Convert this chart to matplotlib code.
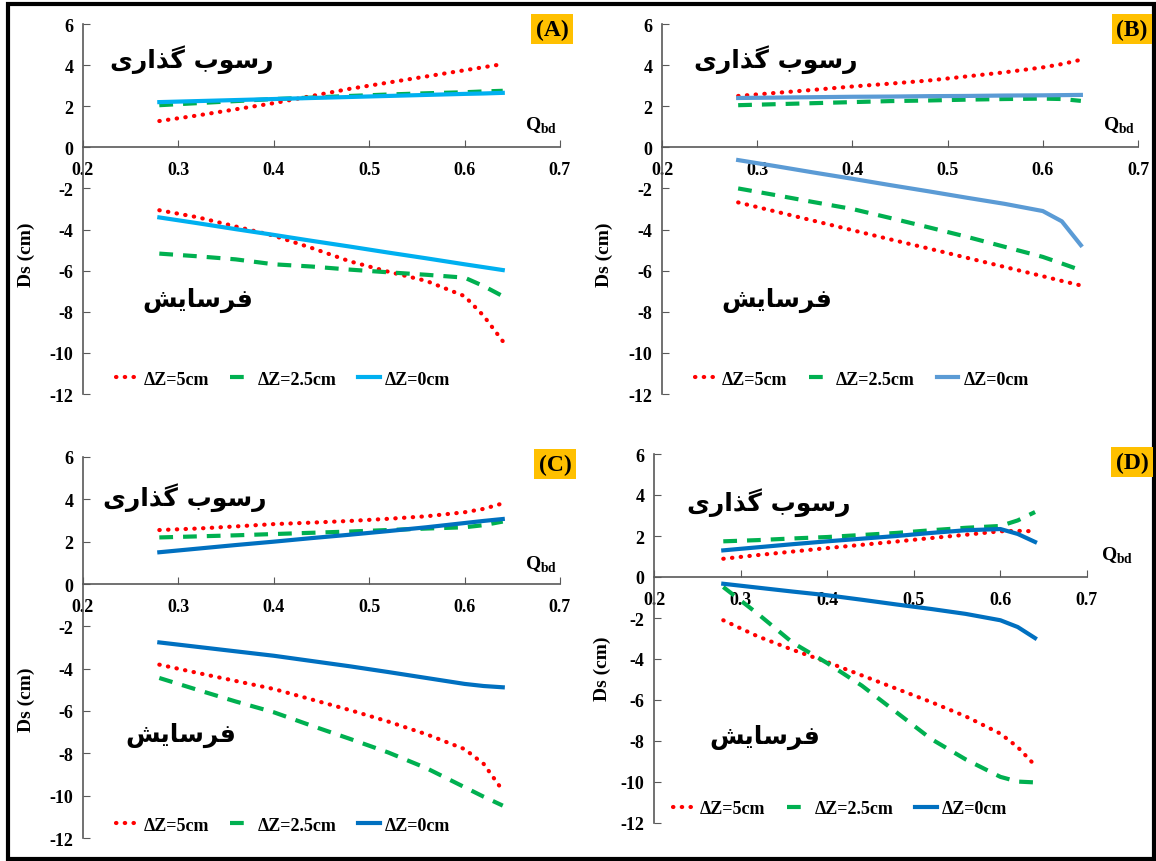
import numpy as np
import matplotlib
matplotlib.use("Agg")
from matplotlib import pyplot as plt
from matplotlib.patches import Rectangle

plt.rcParams['font.family'] = ['Liberation Serif', 'DejaVu Serif']
plt.rcParams['font.weight'] = 'bold'
plt.rcParams['axes.unicode_minus'] = False
plt.rcParams['mathtext.fontset'] = 'custom'
plt.rcParams['mathtext.rm'] = 'Liberation Serif:bold'
plt.rcParams['mathtext.bf'] = 'Liberation Serif:bold'

# ---------------- data ----------------
q_bd = [0.28, 0.32, 0.36, 0.40, 0.44, 0.48, 0.52, 0.56, 0.60, 0.62, 0.64]
legend_labels = ['ΔZ=5cm', 'ΔZ=2.5cm', 'ΔZ=0cm']
panel_tags = ['(A)', '(B)', '(C)', '(D)']

# panel A
a_dep_5 = [1.28, 1.55, 1.85, 2.15, 2.5, 2.85, 3.15, 3.45, 3.75, 3.9, 4.05]
a_dep_25 = [2.05, 2.15, 2.25, 2.35, 2.42, 2.5, 2.57, 2.63, 2.68, 2.72, 2.75]
a_dep_0 = [2.2, 2.25, 2.3, 2.35, 2.4, 2.45, 2.5, 2.55, 2.6, 2.62, 2.65]
a_ero_5 = [-3.06, -3.4, -3.85, -4.3, -4.9, -5.55, -6.05, -6.5, -7.24, -8.2, -9.43]
a_ero_25 = [-5.17, -5.3, -5.45, -5.69, -5.8, -5.95, -6.08, -6.2, -6.34, -6.75, -7.24]
a_ero_0 = [-3.41, -3.69, -3.98, -4.26, -4.55, -4.83, -5.12, -5.4, -5.69, -5.83, -5.97]

# panel B
b_dep_5 = [2.5, 2.65, 2.8, 2.96, 3.1, 3.25, 3.45, 3.65, 3.89, 4.05, 4.26]
b_dep_25 = [2.05, 2.1, 2.15, 2.2, 2.25, 2.28, 2.32, 2.35, 2.37, 2.35, 2.26]
b_dep_0 = [2.4, 2.42, 2.44, 2.46, 2.47, 2.49, 2.5, 2.52, 2.53, 2.54, 2.55]
b_ero_5 = [-2.68, -3.13, -3.58, -4.03, -4.48, -4.92, -5.37, -5.82, -6.27, -6.5, -6.72]
b_ero_25 = [-2.0, -2.33, -2.67, -3.0, -3.44, -3.89, -4.35, -4.84, -5.33, -5.65, -5.98]
b_ero_0 = [-0.62, -0.92, -1.23, -1.53, -1.84, -2.14, -2.45, -2.75, -3.1, -3.6, -4.76]

# panel C
c_dep_5 = [2.55, 2.62, 2.72, 2.83, 2.9, 2.98, 3.08, 3.2, 3.39, 3.55, 3.81]
c_dep_25 = [2.2, 2.25, 2.3, 2.36, 2.42, 2.48, 2.55, 2.62, 2.68, 2.78, 2.95]
c_dep_0 = [1.5, 1.67, 1.84, 2.0, 2.17, 2.33, 2.5, 2.68, 2.88, 2.98, 3.07]
c_ero_5 = [-3.81, -4.2, -4.58, -4.96, -5.46, -5.96, -6.5, -7.1, -7.8, -8.5, -9.76]
c_ero_25 = [-4.44, -5.0, -5.55, -6.06, -6.7, -7.32, -7.96, -8.7, -9.6, -10.05, -10.47]
c_ero_0 = [-2.76, -2.97, -3.18, -3.39, -3.64, -3.89, -4.16, -4.44, -4.72, -4.82, -4.88]

# panel D
d_dep_5 = [0.89, 1.07, 1.24, 1.41, 1.57, 1.73, 1.9, 2.06, 2.23, 2.25, 2.23]
d_dep_25 = [1.74, 1.8, 1.88, 1.95, 2.05, 2.15, 2.28, 2.4, 2.49, 2.76, 3.17]
d_dep_0 = [1.3, 1.45, 1.6, 1.74, 1.87, 2.0, 2.15, 2.28, 2.34, 2.1, 1.71]
d_ero_5 = [-2.11, -2.9, -3.55, -4.15, -4.8, -5.45, -6.1, -6.8, -7.64, -8.3, -9.19]
d_ero_25 = [-0.49, -1.8, -3.2, -4.2, -5.3, -6.6, -7.9, -8.9, -9.75, -9.98, -10.02]
d_ero_0 = [-0.33, -0.52, -0.71, -0.89, -1.11, -1.34, -1.56, -1.8, -2.11, -2.44, -2.98]

# Persian labels written in visual order with presentation forms
txt_dep = '\uFBFC\uFEAD\uFE8D\uFEAC\uFB94 \uFE8F\uFEEE\uFEB3\uFEAD'   # رسوب گذاری
txt_ero = '\uFEB6\uFBFE\uFE8E\uFEB3\uFEAE\uFED3'                      # فرسایش

RED = '#FF0000'
GREEN = '#00B050'
AXC = '#595959'

W, H = 1156, 862
fig = plt.figure(figsize=(W / 100, H / 100), dpi=100)


def px_axes(x0, x1, ytop, ybot):
    return fig.add_axes([x0 / W, 1 - ybot / H, (x1 - x0) / W, (ybot - ytop) / H])


def draw_panel(ax, dep, ero, blue, tag_xy, dep_xy, ero_xy, q_xy, ylab_xy, leg_xy):
    styles = [dict(color=RED, ls=(0, (0.1, 2.0)), dash_capstyle='round'),
              dict(color=GREEN, ls=(0, (3.3, 2.4))),
              dict(color=blue, ls='-')]
    handles = []
    for d, e, st in zip(dep, ero, styles):
        h, = ax.plot(q_bd, d, lw=3.0, **st)
        ax.plot(q_bd, e, lw=3.0, **st)
        handles.append(h)
    ax.set_xlim(0.2, 0.7)
    ax.set_ylim(-12, 6)
    ax.set_xticks(np.arange(0.2, 0.71, 0.1))
    ax.set_xticklabels(['0.2', '0.3', '0.4', '0.5', '0.6', '0.7'])
    ax.set_yticks(range(-12, 7, 2))
    ax.spines['bottom'].set_position(('data', 0))
    ax.spines['top'].set_visible(False)
    ax.spines['right'].set_visible(False)
    for s in ['left', 'bottom']:
        ax.spines[s].set_color(AXC)
        ax.spines[s].set_linewidth(1.2)
    ax.tick_params(axis='x', direction='in', length=5, color=AXC, pad=10, labelsize=13)
    ax.tick_params(axis='y', direction='in', length=5, color=AXC, pad=7, labelsize=13)
    ax.set_ylabel('Ds (cm)', fontsize=14, fontweight='bold')
    ax.yaxis.set_label_coords(*ylab_xy)
    ax.text(q_xy[0], q_xy[1], r'Q$_{\mathrm{bd}}$', fontsize=14, ha='center', va='center',
            clip_on=False)
    ax.text(dep_xy[0], dep_xy[1], txt_dep, family=['DejaVu Sans'], fontweight='bold',
            fontsize=18, ha='center', va='center')
    ax.text(ero_xy[0], ero_xy[1], txt_ero, family=['DejaVu Sans'], fontweight='bold',
            fontsize=18, ha='center', va='center')
    ax.legend(handles, legend_labels, loc='center', bbox_to_anchor=leg_xy, ncol=3,
              frameon=False, handlelength=1.2, handletextpad=0.3,
              columnspacing=1.2, prop={'weight': 'bold', 'size': 13})
    fig.text(tag_xy[0] / W, 1 - tag_xy[1] / H, tag_xy[2], fontsize=17, fontweight='bold',
             ha='center', va='center',
             bbox=dict(boxstyle='square,pad=0.2', fc='#FFC000', ec='none'))


axA = px_axes(83, 560, 25, 395)
draw_panel(axA, [a_dep_5, a_dep_25, a_dep_0], [a_ero_5, a_ero_25, a_ero_0], '#00B0F0',
           (552, 30, panel_tags[0]), (0.314, 4.3), (0.32, -7.4), (0.68, 1.1),
           (-0.1, 0.38), (0.42, 0.04))

axB = px_axes(662, 1138, 25, 395)
draw_panel(axB, [b_dep_5, b_dep_25, b_dep_0], [b_ero_5, b_ero_25, b_ero_0], '#5B9BD5',
           (1132, 30, panel_tags[1]), (0.32, 4.3), (0.321, -7.4), (0.68, 1.1),
           (-0.103, 0.38), (0.42, 0.04))

axC = px_axes(83, 560, 458, 839)
draw_panel(axC, [c_dep_5, c_dep_25, c_dep_0], [c_ero_5, c_ero_25, c_ero_0], '#0070C0',
           (555, 465, panel_tags[2]), (0.307, 4.15), (0.303, -7.1), (0.68, 0.95),
           (-0.1, 0.365), (0.42, 0.034))

axD = px_axes(654, 1087, 455, 824)
draw_panel(axD, [d_dep_5, d_dep_25, d_dep_0], [d_ero_5, d_ero_25, d_ero_0], '#0070C0',
           (1132, 463, panel_tags[3]), (0.332, 3.66), (0.328, -7.76), (0.735, 1.1),
           (-0.1, 0.42), (0.43, 0.038))

fig.patches.append(Rectangle((8 / W, 2 / H), 1146 / W, 855 / H, transform=fig.transFigure,
                             fill=False, lw=3, ec='black'))

fig.savefig('out.png', dpi=100)
